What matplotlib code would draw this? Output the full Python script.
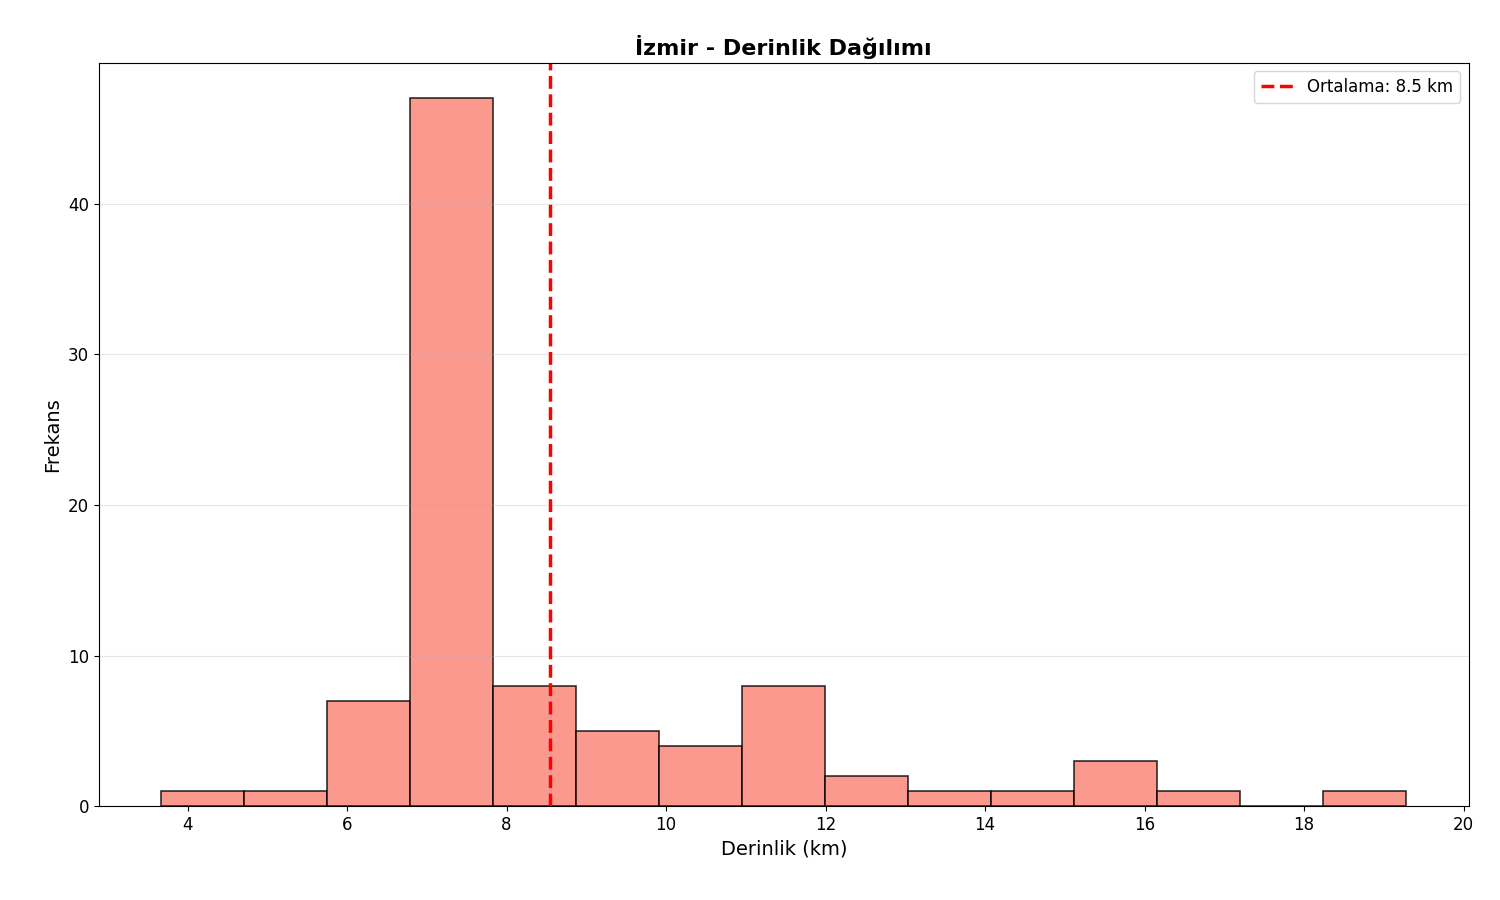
import matplotlib
matplotlib.use("Agg")
import matplotlib.pyplot as plt
import numpy as np

counts = [1, 1, 7, 47, 8, 5, 4, 8, 2, 1, 1, 3, 1, 0, 1]
bin_start = 3.67
bin_end = 19.28
mean_depth = 8.54

edges = np.linspace(bin_start, bin_end, len(counts) + 1)
fig, ax = plt.subplots(figsize=(15, 9), dpi=100)
ax.hist(edges[:-1], bins=edges, weights=counts, color='salmon', alpha=0.8,
        edgecolor='black', linewidth=1.2)
ax.axvline(mean_depth, color='red', linestyle='--', linewidth=2.5,
           label=f'Ortalama: {mean_depth:.1f} km')
ax.set_title('İzmir - Derinlik Dağılımı', fontsize=16, fontweight='bold')
ax.set_xlabel('Derinlik (km)', fontsize=14)
ax.set_ylabel('Frekans', fontsize=14)
ax.tick_params(labelsize=12)
ax.grid(axis='y', alpha=0.3)
ax.legend(fontsize=12)
fig.subplots_adjust(left=0.066, right=0.979, top=0.93, bottom=0.104)
fig.savefig('out.png')
